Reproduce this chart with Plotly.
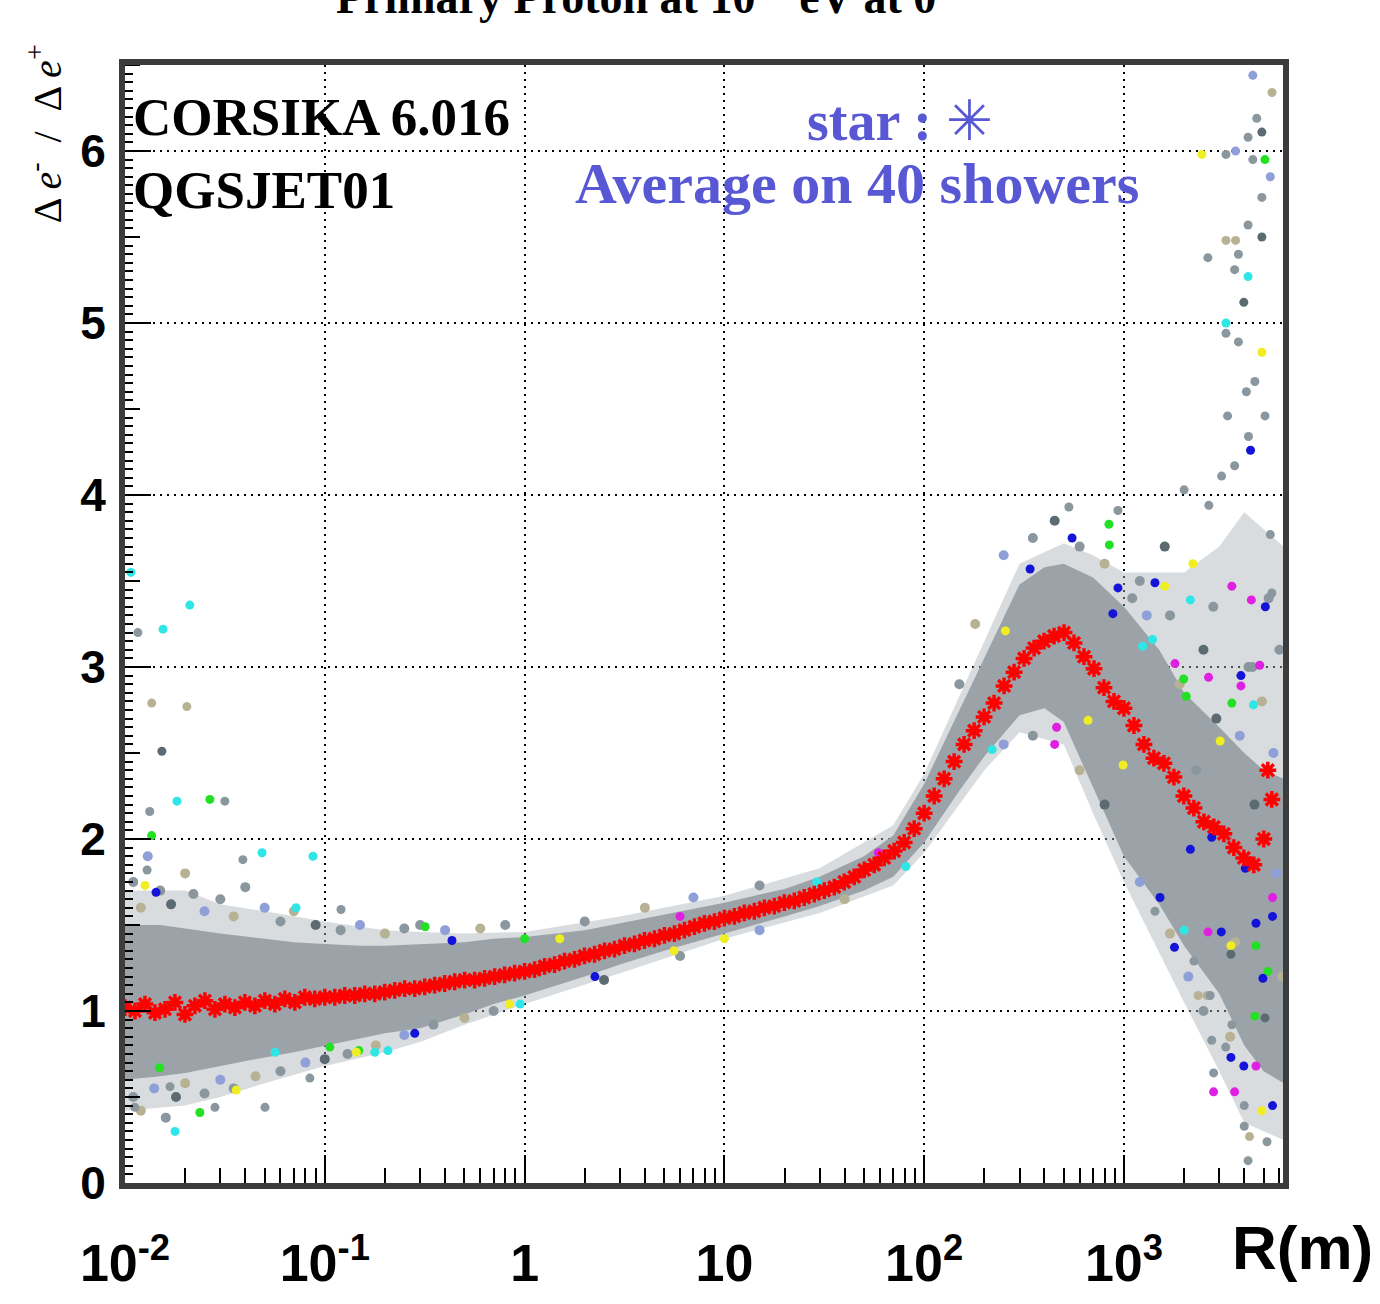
import plotly.graph_objects as go

# ---------------- data ----------------
# red stars: average over 40 showers (log10 R, ratio)
mean_logr = [-2.00, -1.95, -1.90, -1.85, -1.80, -1.75, -1.70, -1.65, -1.60, -1.55,
             -1.50, -1.45, -1.40, -1.35, -1.30, -1.25, -1.20, -1.15, -1.10, -1.05,
             -1.00, -0.95, -0.90, -0.85, -0.80, -0.75, -0.70, -0.65, -0.60, -0.55,
             -0.50, -0.45, -0.40, -0.35, -0.30, -0.25, -0.20, -0.15, -0.10, -0.05,
             0.00, 0.05, 0.10, 0.15, 0.20, 0.25, 0.30, 0.35, 0.40, 0.45,
             0.50, 0.55, 0.60, 0.65, 0.70, 0.75, 0.80, 0.85, 0.90, 0.95,
             1.00, 1.05, 1.10, 1.15, 1.20, 1.25, 1.30, 1.35, 1.40, 1.45,
             1.50, 1.55, 1.60, 1.65, 1.70, 1.75,
             1.80, 1.85, 1.90, 1.95, 2.00, 2.05, 2.10, 2.15, 2.20, 2.25,
             2.30, 2.35, 2.40, 2.45, 2.50, 2.55, 2.60, 2.65, 2.70, 2.75,
             2.80, 2.85, 2.90, 2.95, 3.00, 3.05, 3.10, 3.15, 3.20, 3.25,
             3.30, 3.35, 3.40, 3.45, 3.50, 3.55, 3.60, 3.65, 3.70, 3.72, 3.74]
mean_ratio = [1.02, 1.00, 1.04, 0.99, 1.01, 1.05, 0.98, 1.03, 1.06, 1.01,
              1.04, 1.02, 1.05, 1.03, 1.06, 1.04, 1.07, 1.05, 1.08, 1.07,
              1.08, 1.08, 1.09, 1.09, 1.10, 1.10, 1.11, 1.12, 1.13, 1.13,
              1.14, 1.15, 1.16, 1.17, 1.18, 1.18, 1.19, 1.20, 1.21, 1.22,
              1.23, 1.24, 1.26, 1.27, 1.29, 1.30, 1.32, 1.33, 1.35, 1.36,
              1.38, 1.39, 1.41, 1.42, 1.44, 1.45, 1.47, 1.49, 1.51, 1.52,
              1.54, 1.55, 1.57, 1.58, 1.60, 1.61, 1.63, 1.64, 1.66, 1.68,
              1.70, 1.72, 1.75, 1.78, 1.82, 1.85,
              1.89, 1.93, 1.98, 2.06, 2.15, 2.25, 2.35, 2.45, 2.55, 2.63,
              2.71, 2.79, 2.89, 2.97, 3.05, 3.11, 3.15, 3.18, 3.20, 3.14,
              3.06, 2.99, 2.88, 2.80, 2.76, 2.66, 2.55, 2.47, 2.44, 2.36,
              2.25, 2.18, 2.10, 2.07, 2.03, 1.95, 1.89, 1.85, 2.00, 2.40, 2.23]

# envelope of the dense cloud of individual-shower points
band_r = [0.01, 0.015, 0.02, 0.03, 0.05, 0.07, 0.1, 0.15, 0.2, 0.3, 0.5, 0.7, 1, 2, 3, 5,
          10, 20, 30, 50, 70, 100, 150, 200, 300, 400, 500, 700, 1000, 1500, 2000, 3000,
          4000, 5000, 6300]
band_lo = [0.60, 0.62, 0.64, 0.68, 0.73, 0.76, 0.80, 0.84, 0.87, 0.90, 0.98, 1.04, 1.09, 1.20, 1.27, 1.35,
           1.45, 1.55, 1.61, 1.70, 1.78, 1.98, 2.28, 2.48, 2.72, 2.76, 2.68, 2.30, 1.90, 1.62, 1.38, 1.10,
           0.80, 0.65, 0.58]
band_hi = [1.50, 1.50, 1.48, 1.45, 1.42, 1.40, 1.39, 1.38, 1.38, 1.39, 1.40, 1.42, 1.43, 1.47, 1.51, 1.56,
           1.63, 1.71, 1.78, 1.90, 2.02, 2.32, 2.75, 3.05, 3.48, 3.58, 3.60, 3.52, 3.35, 3.10, 2.85, 2.65,
           2.50, 2.40, 2.35]

# envelope of the sparser outer halo
halo_r = [0.01, 0.02, 0.03, 0.05, 0.1, 0.2, 0.3, 0.5, 1, 3, 10, 30, 70, 100, 200, 300, 500, 700,
          1000, 2000, 3000, 4000, 6300]
halo_lo = [0.42, 0.45, 0.50, 0.58, 0.68, 0.76, 0.82, 0.92, 1.04, 1.22, 1.42, 1.57, 1.73, 1.92, 2.40,
           2.62, 2.55, 2.15, 1.75, 1.05, 0.65, 0.35, 0.25]
halo_hi = [1.70, 1.70, 1.62, 1.58, 1.52, 1.47, 1.46, 1.45, 1.46, 1.55, 1.67, 1.83, 2.08, 2.38, 3.15,
           3.60, 3.72, 3.65, 3.55, 3.55, 3.70, 3.90, 3.70]

# individual outlying points (R in m, ratio, colour code)
out_r = [0.0107, 0.0155, 0.0211, 0.0116, 0.0136, 0.0204, 0.0153, 0.0133, 0.0182, 0.0266,
         0.0316, 0.0136, 0.0129, 0.0126, 0.0143, 0.0389, 0.0485, 0.0873, 0.1205, 0.0718,
         0.318, 0.433, 0.282, 0.207, 0.148, 0.0178, 0.0237, 0.036, 0.0149, 0.0564,
         0.106, 0.144, 0.178, 0.0282, 0.0112, 0.0168, 0.0502, 0.0842,
         59, 81, 2.25, 5.6, 0.84, 0.95, 1.0, 1.5, 10, 6.0, 29,
         339, 550, 841, 845, 933, 880, 530, 933, 2213, 1429, 1600, 3467, 2150, 4340, 5100,
         1800, 4780, 1990, 2650, 3850, 3850, 3467, 2050, 4450, 661, 460, 450, 219, 3030,
         990, 2150, 4050, 2750, 255, 1390, 1240,
         4415, 5508, 2455, 5080, 3240, 3620, 4415, 4620, 4900, 4180, 5400, 4900, 4180,
         4900, 3240, 3620, 2630, 3740, 3580, 4180, 3980, 3240, 3240,
         3740, 4900, 4520, 4100, 4300, 4200, 3580, 3080, 2000, 5080, 5400, 5500, 3300, 2660,
         1515, 1430, 2000, 1790, 2635, 3070, 3430, 4580, 4580, 5540, 5540, 5250, 4960, 3430,
         2240, 2600, 4520, 3430, 3980, 4580, 2810, 3580, 5540, 4900, 4000, 4000, 4250, 5200,
         4180, 2810, 2750, 3230, 3470, 2350, 2700, 5080]
out_y = [3.55, 3.22, 3.36, 3.20, 2.79, 2.77, 2.51, 2.16, 2.22, 2.23,
         2.22, 2.02, 1.82, 1.73, 1.69, 1.88, 1.92, 1.90, 1.59, 1.60,
         1.49, 1.41, 0.87, 0.77, 0.77, 0.30, 0.41, 0.54, 0.67, 0.76,
         0.79, 0.76, 0.76, 0.44, 0.44, 0.56, 0.44, 0.61,
         1.92, 1.84, 1.20, 1.35, 1.04, 1.04, 1.42, 1.42, 1.42, 1.55, 1.75,
         3.57, 3.75, 3.83, 3.71, 3.46, 3.31, 3.93, 3.91, 3.60, 3.49, 3.47, 3.47, 3.39, 3.39, 3.35,
         3.02, 3.01, 2.93, 2.94, 2.95, 2.89, 2.79, 2.83, 2.78, 2.69, 2.65, 2.55, 2.52, 2.57,
         2.43, 1.94, 1.83, 2.01, 3.21, 3.16, 3.12,
         6.44, 6.34, 5.98, 5.95, 5.98, 6.00, 5.95, 6.19, 6.11, 6.08, 5.85, 5.73, 5.57,
         5.50, 5.48, 5.48, 5.38, 5.40, 5.31, 5.27, 5.12, 5.00, 4.94,
         4.89, 4.83, 4.66, 4.60, 4.26, 4.34, 4.17, 4.11, 4.03, 4.46, 3.77, 3.43, 4.46, 3.94,
         1.66, 1.58, 1.47, 1.37, 1.46, 1.46, 1.38, 1.38, 1.51, 1.66, 1.55, 1.23, 1.19, 1.33,
         1.29, 1.09, 0.97, 0.73, 0.68, 0.68, 0.53, 0.53, 0.45, 0.42, 0.45, 0.33, 0.27, 0.24,
         0.13, 0.64, 0.83, 0.79, 0.92, 1.09, 1.09, 0.96]
out_c = ["c", "c", "c", "k", "t", "t", "d", "k", "c", "g",
         "k", "g", "k", "y", "b", "k", "c", "c", "k", "c",
         "g", "b", "b", "c", "g", "c", "g", "y", "g", "c",
         "g", "y", "c", "k", "k", "k", "k", "k",
         "m", "c", "b", "y", "y", "c", "g", "y", "y", "m", "c",
         "b", "b", "g", "g", "b", "b", "k", "k", "y", "b", "y", "m", "c", "m", "b",
         "m", "m", "g", "m", "b", "m", "g", "g", "c", "y", "m", "m", "c", "y",
         "y", "b", "b", "b", "y", "c", "c",
         "l", "t", "y", "g", "k", "l", "k", "k", "d", "k", "l", "k", "k",
         "d", "t", "t", "k", "k", "k", "c", "d", "c", "k",
         "k", "y", "k", "k", "b", "k", "k", "k", "k", "k", "k", "k", "k", "k",
         "b", "k", "c", "b", "m", "b", "y", "g", "b", "m", "b", "g", "b", "d",
         "k", "t", "g", "b", "b", "m", "m", "m", "b", "y", "k", "k", "t", "k",
         "k", "k", "k", "k", "k", "t", "k", "d"]

# greyish points scattered along the edges of the cloud
edge_r = [0.011, 0.012, 0.013, 0.015, 0.017, 0.02, 0.022, 0.025, 0.03, 0.035, 0.04, 0.05,
          0.06, 0.07, 0.09, 0.12, 0.15, 0.2, 0.25, 0.3, 0.4, 0.6, 0.8,
          0.011, 0.012, 0.014, 0.016, 0.018, 0.02, 0.025, 0.03, 0.035, 0.045, 0.06, 0.08,
          0.1, 0.13, 0.18, 0.25, 0.35, 0.5, 0.7,
          2, 4, 7, 15, 2.5, 6, 15, 40,
          150, 180, 250, 350, 450, 600, 800, 250, 350, 600, 800, 1200, 1200, 1700, 1700,
          2500, 2500, 1300, 1900, 2300, 2900, 3300, 3600, 3800, 4200, 4500, 4900, 5300,
          5600, 6000, 6200, 1100, 1600, 2100, 2800, 3400, 4400, 5800]
edge_y = [1.75, 1.60, 1.90, 1.70, 1.62, 1.80, 1.68, 1.58, 1.65, 1.55, 1.72, 1.60,
          1.52, 1.58, 1.50, 1.47, 1.50, 1.45, 1.48, 1.50, 1.47, 1.48, 1.50,
          0.50, 0.42, 0.55, 0.38, 0.50, 0.58, 0.52, 0.60, 0.55, 0.62, 0.65, 0.70,
          0.72, 0.75, 0.80, 0.86, 0.92, 0.96, 1.00,
          1.52, 1.60, 1.66, 1.73, 1.18, 1.32, 1.47, 1.65,
          2.90, 3.25, 3.65, 3.75, 3.85, 3.70, 3.60, 2.55, 2.60, 2.40, 2.20, 3.50, 1.75,
          1.45, 3.30, 3.10, 1.00, 3.30, 2.90, 2.40, 2.70, 2.00, 1.40, 2.60, 3.00, 2.20,
          2.80, 3.40, 2.50, 3.10, 1.20, 3.40, 3.70, 1.20, 3.35, 0.85, 3.00, 1.80]
edge_c = ["k", "t", "l", "k", "d", "t", "k", "l", "k", "t", "k", "l",
          "k", "t", "d", "k", "l", "t", "k", "k", "l", "t", "k",
          "k", "t", "l", "k", "d", "t", "k", "l", "k", "t", "k", "l",
          "d", "k", "t", "l", "k", "t", "k",
          "k", "t", "l", "k", "d", "k", "l", "t",
          "k", "t", "l", "k", "d", "k", "t", "l", "k", "t", "d", "k", "l",
          "t", "k", "d", "k", "l", "t", "k", "d", "k", "t", "l", "k", "d", "t",
          "k", "l", "k", "t", "k", "d", "l", "k", "t", "k", "l", "k"]

# axis tick labels
x_tickvals = [0.01, 0.1, 1, 10, 100, 1000]
x_ticktext = ["10<sup>-2</sup>", "10<sup>-1</sup>", "1", "10", "10<sup>2</sup>", "10<sup>3</sup>"]
y_tickvals = [0, 1, 2, 3, 4, 5, 6]
y_ticktext = ["0", "1", "2", "3", "4", "5", "6"]

# ---------------- figure ----------------
colour_map = {"c": "#2ee6e6", "g": "#22e022", "b": "#1414d8", "y": "#eeee22",
              "m": "#e020e0", "k": "#8a979e", "t": "#b8b294", "d": "#5c6b72",
              "l": "#8f9fd8"}

W, H = 1380, 1304
L, R, T, B = 125, 1283, 65, 1197


def pxx(x):
    return (x - L) / (R - L)


def pxy(y):
    return (B - y) / (B - T)


fig = go.Figure()

fig.add_trace(go.Scatter(
    x=halo_r + halo_r[::-1], y=halo_hi + halo_lo[::-1],
    fill="toself", fillcolor="rgba(170,177,182,0.45)", line=dict(width=0),
    mode="lines", hoverinfo="skip", showlegend=False))

fig.add_trace(go.Scatter(
    x=band_r + band_r[::-1], y=band_hi + band_lo[::-1],
    fill="toself", fillcolor="rgb(156,163,168)", line=dict(width=0),
    mode="lines", hoverinfo="skip", showlegend=False))

fig.add_trace(go.Scatter(
    x=edge_r, y=edge_y, mode="markers",
    marker=dict(size=10, color=[colour_map[c] for c in edge_c], line=dict(width=0)),
    hoverinfo="skip", showlegend=False))

fig.add_trace(go.Scatter(
    x=out_r, y=out_y, mode="markers",
    marker=dict(size=9, color=[colour_map[c] for c in out_c], line=dict(width=0)),
    hoverinfo="skip", showlegend=False))

fig.add_trace(go.Scatter(
    x=[10 ** v for v in mean_logr], y=mean_ratio, mode="markers",
    marker=dict(symbol="asterisk-open", size=14, color="red",
                line=dict(color="red", width=3.5)),
    showlegend=False))

minor_x = [m * 10 ** e for e in range(-2, 4) for m in range(2, 10)]

fig.update_xaxes(
    type="log", range=[-2, 3.796],
    tickmode="array", tickvals=x_tickvals, ticktext=x_ticktext,
    ticks="inside", ticklen=28, tickwidth=2, tickcolor="black",
    tickfont=dict(family="Liberation Sans", size=52, color="black", weight="bold"),
    ticklabelstandoff=30,
    showgrid=True, gridcolor="black", gridwidth=2, griddash="2px,5px",
    minor=dict(tickmode="array", tickvals=minor_x, ticks="inside", ticklen=15,
               tickwidth=2, tickcolor="black", showgrid=False),
    showline=True, linecolor="#3c3c3c", linewidth=6, mirror=True,
    zeroline=False)

fig.update_yaxes(
    range=[0, 6.5],
    tickmode="array", tickvals=y_tickvals, ticktext=y_ticktext,
    ticks="inside", ticklen=26, tickwidth=2, tickcolor="black",
    tickfont=dict(family="Liberation Sans", size=46, color="black", weight="bold"),
    ticklabelstandoff=4,
    showgrid=True, gridcolor="black", gridwidth=2, griddash="2px,5px",
    minor=dict(dtick=0.05, ticks="inside", ticklen=8, tickwidth=1.5,
               tickcolor="black", showgrid=False),
    showline=True, linecolor="#3c3c3c", linewidth=6, mirror=True,
    zeroline=False)

# medium ticks at half-integer values
shapes = []
for v in [0.5, 1.5, 2.5, 3.5, 4.5, 5.5, 6.5]:
    shapes.append(dict(type="line", xref="paper", yref="y", x0=0, x1=15 / (R - L),
                       y0=v, y1=v, line=dict(color="black", width=2)))

serif = "Liberation Serif"
blue = "rgb(88,88,212)"
annotations = [
    dict(text="<b>Primary Proton at 10<sup>19</sup> eV at 0°</b>", x=pxx(645), y=pxy(25),
         xref="paper", yref="paper", xanchor="center", yanchor="bottom", showarrow=False,
         font=dict(family=serif, size=46, color="black")),
    dict(text="Δ <i>e</i><sup>-</sup>  /  Δ <i>e</i><sup>+</sup>", x=pxx(44), y=pxy(135),
         xref="paper", yref="paper", xanchor="center", yanchor="middle", textangle=-90,
         showarrow=False, font=dict(family=serif, size=40, color="black")),
    dict(text="<b>CORSIKA 6.016</b>", x=pxx(131), y=pxy(118),
         xref="paper", yref="paper", xanchor="left", yanchor="middle", showarrow=False,
         font=dict(family=serif, size=53, color="black")),
    dict(text="<b>QGSJET01</b>", x=pxx(131), y=pxy(192),
         xref="paper", yref="paper", xanchor="left", yanchor="middle", showarrow=False,
         font=dict(family=serif, size=53, color="black")),
    dict(text="<b>star : </b>✳", x=pxx(900), y=pxy(122),
         xref="paper", yref="paper", xanchor="center", yanchor="middle", showarrow=False,
         font=dict(family=serif, size=56, color=blue)),
    dict(text="<b>Average on 40 showers</b>", x=pxx(857), y=pxy(185),
         xref="paper", yref="paper", xanchor="center", yanchor="middle", showarrow=False,
         font=dict(family=serif, size=58, color=blue)),
    dict(text="<b>R(m)</b>", x=pxx(1302), y=pxy(1262),
         xref="paper", yref="paper", xanchor="center", yanchor="middle", showarrow=False,
         font=dict(family="Liberation Sans", size=62, color="black")),
]

fig.update_layout(
    width=W, height=H, autosize=False,
    margin=dict(l=L, r=W - R, t=T, b=H - B, pad=0),
    paper_bgcolor="white", plot_bgcolor="white",
    showlegend=False, shapes=shapes, annotations=annotations)

fig.write_html("out.html")
